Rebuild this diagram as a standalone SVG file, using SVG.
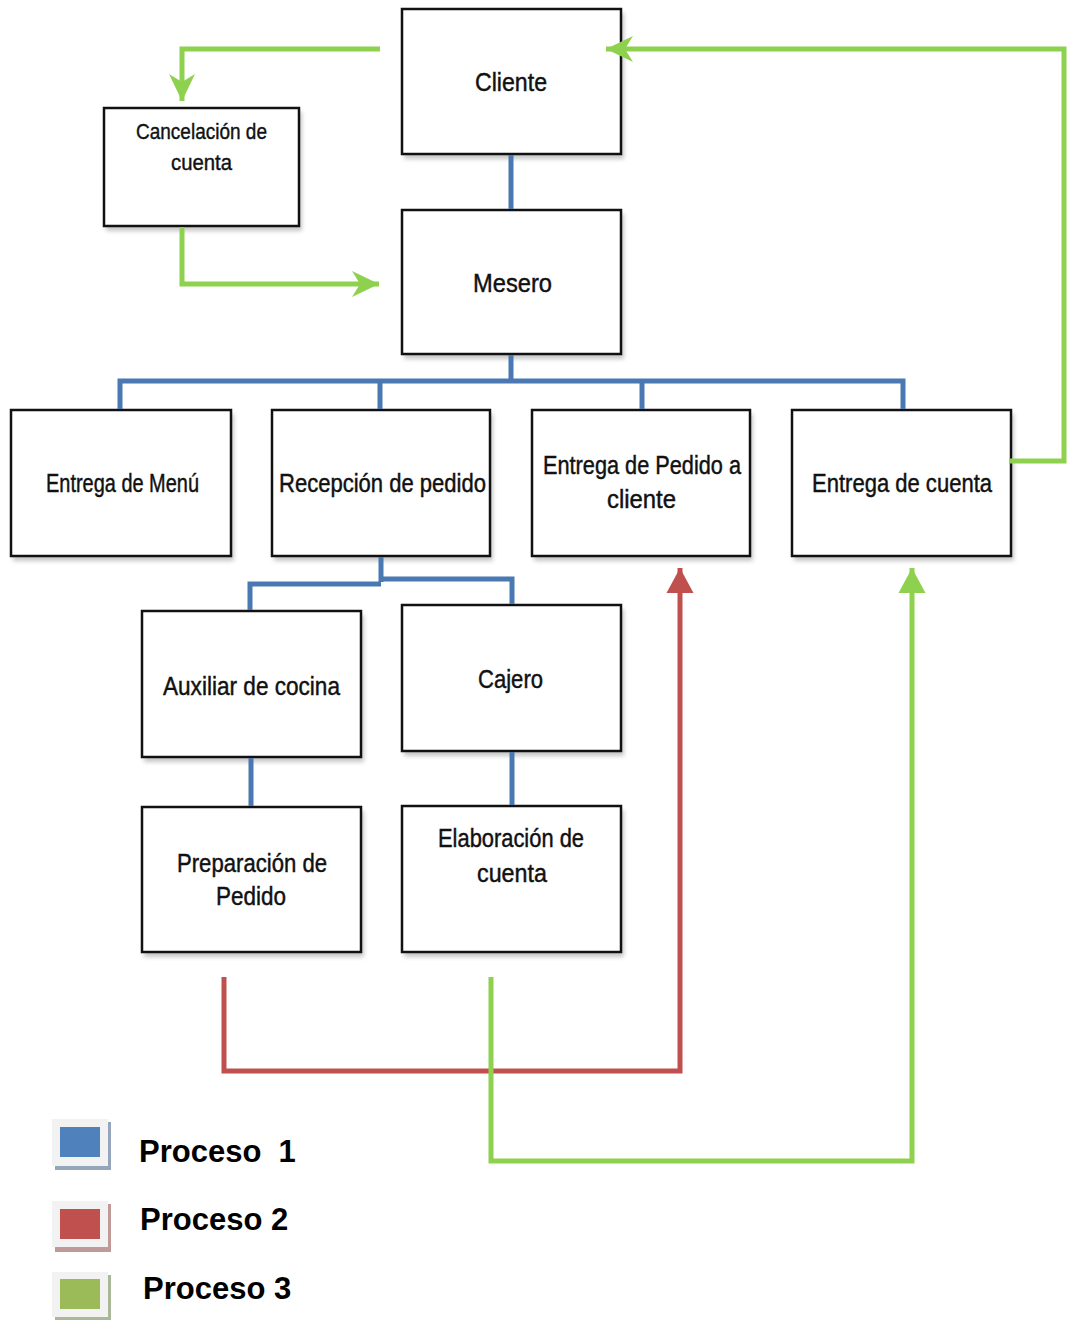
<svg xmlns="http://www.w3.org/2000/svg" width="1068" height="1320" viewBox="0 0 1068 1320">
  <defs>
    <style>
      .box { fill: #ffffff; stroke: #111111; stroke-width: 2.5; }
      .shadow { fill: #9a9a9a; opacity: 0.55; filter: url(#soft); }
      .lbl { font-family: "Liberation Sans", Arial, sans-serif; font-size: 26px; fill: #111111; stroke: #111111; stroke-width: 0.45; }
      .lbl-s { font-family: "Liberation Sans", Arial, sans-serif; font-size: 22px; fill: #111111; stroke: #111111; stroke-width: 0.4; }
      .p1 { fill: none; stroke: #4a78b2; stroke-width: 5; }
      .p2 { fill: none; stroke: #c0504d; stroke-width: 5; }
      .p3 { fill: none; stroke: #8ed14f; stroke-width: 5; }
      .leg { font-family: "Liberation Sans", Arial, sans-serif; font-size: 31px; font-weight: bold; fill: #000000; white-space: pre; }
    </style>
    <filter id="soft" x="-10%" y="-10%" width="120%" height="130%">
      <feGaussianBlur stdDeviation="2"/>
    </filter>
    <!-- notched arrowhead -->
    <marker id="arrGreen" viewBox="-28 -14 30 28" refX="0" refY="0" markerWidth="30" markerHeight="28" markerUnits="userSpaceOnUse" orient="auto">
      <path d="M0,0 L-27,-13 L-19,0 L-27,13 Z" fill="#8ed14f"/>
    </marker>
    <!-- plain triangle arrowheads -->
    <marker id="triGreen" viewBox="-28 -14 30 28" refX="0" refY="0" markerWidth="30" markerHeight="28" markerUnits="userSpaceOnUse" orient="auto">
      <path d="M0,0 L-25,-13.5 L-25,13.5 Z" fill="#8ed14f"/>
    </marker>
    <marker id="triRed" viewBox="-28 -14 30 28" refX="0" refY="0" markerWidth="30" markerHeight="28" markerUnits="userSpaceOnUse" orient="auto">
      <path d="M0,0 L-25,-13.5 L-25,13.5 Z" fill="#c0504d"/>
    </marker>
  </defs>

  <rect width="1068" height="1320" fill="#ffffff"/>

  <!-- nodes -->
  <g id="cliente">
    <rect class="shadow" x="404" y="13" width="220" height="146"/>
    <rect class="box" x="402" y="9" width="219" height="145"/>
    <text class="lbl" x="475" y="91" textLength="72" lengthAdjust="spacingAndGlyphs">Cliente</text>
  </g>
  <g id="cancelacion">
    <rect class="shadow" x="106" y="112" width="196" height="119"/>
    <rect class="box" x="104" y="108" width="195" height="118"/>
    <text class="lbl-s" x="136" y="139" textLength="131" lengthAdjust="spacingAndGlyphs">Cancelación de</text>
    <text class="lbl-s" x="171" y="170" textLength="61" lengthAdjust="spacingAndGlyphs">cuenta</text>
  </g>
  <g id="mesero">
    <rect class="shadow" x="404" y="214" width="220" height="145"/>
    <rect class="box" x="402" y="210" width="219" height="144"/>
    <text class="lbl" x="473" y="292" textLength="79" lengthAdjust="spacingAndGlyphs">Mesero</text>
  </g>
  <g id="entrega-menu">
    <rect class="shadow" x="13" y="414" width="221" height="147"/>
    <rect class="box" x="11" y="410" width="220" height="146"/>
    <text class="lbl" x="46" y="492" textLength="153" lengthAdjust="spacingAndGlyphs">Entrega de Menú</text>
  </g>
  <g id="recepcion-pedido">
    <rect class="shadow" x="274" y="414" width="219" height="147"/>
    <rect class="box" x="272" y="410" width="218" height="146"/>
    <text class="lbl" x="279" y="492" textLength="207" lengthAdjust="spacingAndGlyphs">Recepción de pedido</text>
  </g>
  <g id="entrega-pedido">
    <rect class="shadow" x="534" y="414" width="219" height="147"/>
    <rect class="box" x="532" y="410" width="218" height="146"/>
    <text class="lbl" x="543" y="474" textLength="198" lengthAdjust="spacingAndGlyphs">Entrega de Pedido a</text>
    <text class="lbl" x="607" y="508" textLength="69" lengthAdjust="spacingAndGlyphs">cliente</text>
  </g>
  <g id="entrega-cuenta">
    <rect class="shadow" x="794" y="414" width="220" height="147"/>
    <rect class="box" x="792" y="410" width="219" height="146"/>
    <text class="lbl" x="812" y="492" textLength="180" lengthAdjust="spacingAndGlyphs">Entrega de cuenta</text>
  </g>
  <g id="auxiliar-cocina">
    <rect class="shadow" x="144" y="615" width="220" height="147"/>
    <rect class="box" x="142" y="611" width="219" height="146"/>
    <text class="lbl" x="163" y="695" textLength="177" lengthAdjust="spacingAndGlyphs">Auxiliar de cocina</text>
  </g>
  <g id="cajero">
    <rect class="shadow" x="404" y="609" width="220" height="147"/>
    <rect class="box" x="402" y="605" width="219" height="146"/>
    <text class="lbl" x="478" y="688" textLength="65" lengthAdjust="spacingAndGlyphs">Cajero</text>
  </g>
  <g id="preparacion-pedido">
    <rect class="shadow" x="144" y="811" width="220" height="146"/>
    <rect class="box" x="142" y="807" width="219" height="145"/>
    <text class="lbl" x="177" y="872" textLength="150" lengthAdjust="spacingAndGlyphs">Preparación de</text>
    <text class="lbl" x="216" y="905" textLength="70" lengthAdjust="spacingAndGlyphs">Pedido</text>
  </g>
  <g id="elaboracion-cuenta">
    <rect class="shadow" x="404" y="810" width="220" height="147"/>
    <rect class="box" x="402" y="806" width="219" height="146"/>
    <text class="lbl" x="438" y="847" textLength="146" lengthAdjust="spacingAndGlyphs">Elaboración de</text>
    <text class="lbl" x="477" y="882" textLength="70" lengthAdjust="spacingAndGlyphs">cuenta</text>
  </g>

  <!-- connectors (drawn over the boxes so arrowheads stay visible) -->
  <g id="connectors">
    <!-- process 1: hierarchy -->
    <path class="p1" d="M511,155 V209"/>
    <path class="p1" d="M511,355 V381"/>
    <path class="p1" d="M120,409 V381 H903 V409"/>
    <path class="p1" d="M380,381 V409"/>
    <path class="p1" d="M642,381 V409"/>
    <path class="p1" d="M381,557 V582"/>
    <path class="p1" d="M250,610 V584 H381"/>
    <path class="p1" d="M381,579 H512 V604"/>
    <path class="p1" d="M251,758 V806"/>
    <path class="p1" d="M512,752 V805"/>
    <!-- process 2 -->
    <path class="p2" d="M224,977 V1071 H680 V568" marker-end="url(#triRed)"/>
    <!-- process 3 -->
    <path class="p3" d="M491,977 V1161 H912 V568" marker-end="url(#triGreen)"/>
    <path class="p3" d="M1009,461 H1064 V49 H606" marker-end="url(#arrGreen)"/>
    <path class="p3" d="M380,49 H182 V101" marker-end="url(#arrGreen)"/>
    <path class="p3" d="M182,227 V284 H379" marker-end="url(#arrGreen)"/>
  </g>

  <!-- legend -->
  <g id="legend">
    <g id="legend-1">
      <rect x="55" y="1122" width="56" height="48" fill="#95a5bb"/>
      <rect x="52" y="1119" width="56" height="47" fill="#f2f2f2"/>
      <rect x="60" y="1127" width="40" height="30" fill="#4f81bd"/>
      <text class="leg" x="139" y="1162">Proceso  1</text>
    </g>
    <g id="legend-2">
      <rect x="55" y="1204" width="56" height="48" fill="#c09a99"/>
      <rect x="52" y="1201" width="56" height="46" fill="#f2f2f2"/>
      <rect x="60" y="1209" width="40" height="30" fill="#c0504d"/>
      <text class="leg" x="140" y="1230">Proceso 2</text>
    </g>
    <g id="legend-3">
      <rect x="55" y="1275" width="56" height="45" fill="#a8b898"/>
      <rect x="52" y="1272" width="56" height="45" fill="#f2f2f2"/>
      <rect x="60" y="1279" width="40" height="30" fill="#9bbb59"/>
      <text class="leg" x="143" y="1299">Proceso 3</text>
    </g>
  </g>
</svg>
